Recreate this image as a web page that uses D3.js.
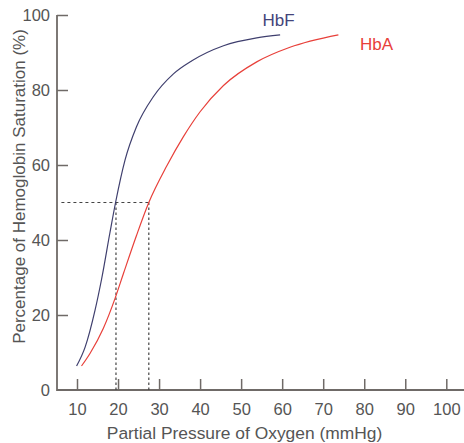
<!DOCTYPE html>
<html>
<head>
<meta charset="utf-8">
<script src="https://cdn.jsdelivr.net/npm/d3@7"></script>
<style>
  html, body { margin: 0; padding: 0; background: #fff; }
  svg { display: block; font-family: "Liberation Sans", Arial, sans-serif; }
</style>
</head>
<body>
<svg id="chart" width="464" height="443"></svg>
<script>
// Oxygen dissociation curves: fetal (HbF) vs adult (HbA) hemoglobin
const hbfPO2 = [9.9, 12, 14.4, 16, 18, 19.4, 21.7, 24.5, 28.6, 33.5, 38, 45.7, 53.8, 59.5];
const hbfSat = [6.4, 11.5, 21.3, 29.6, 41.8, 50, 61.3, 70.2, 78.2, 84.3, 87.8, 91.8, 93.9, 94.7];

const hbaPO2 = [11.1, 13.2, 16.4, 19.3, 21.3, 24.5, 27.5, 31.9, 35.9, 40, 45.7, 53.8, 61.9, 73.7];
const hbaSat = [6.4, 9.8, 16.4, 24.5, 31, 41.2, 50, 59.8, 67.5, 74.2, 81.2, 87.5, 91.4, 94.7];

// P50 values (partial pressure at 50% saturation)
const p50Values = [19.5, 27.5];
const halfSat = 50;

const xTicks = [10, 20, 30, 40, 50, 60, 70, 80, 90, 100];
const yTicks = [0, 20, 40, 60, 80, 100];

const svg = d3.select("#chart");
const W = 464;

const x = d3.scaleLinear().domain([10, 100]).range([77, 446.3]);
const y = d3.scaleLinear().domain([0, 100]).range([390, 15]);

const axisColor = "#6f6a67";
const textColor = "#555";

// x axis
const axisX0 = 57;
svg.append("line")
  .attr("x1", axisX0).attr("x2", W)
  .attr("y1", y(0)).attr("y2", y(0))
  .attr("stroke", axisColor).attr("stroke-width", 1.8);

const gx = svg.append("g")
  .attr("transform", `translate(0,${y(0)})`)
  .call(d3.axisBottom(x).tickValues(xTicks).tickSize(-11).tickPadding(13.5).tickFormat(d3.format("d")));
gx.select(".domain").remove();
gx.selectAll(".tick line").attr("stroke", axisColor).attr("stroke-width", 1.5);
gx.selectAll(".tick text")
  .attr("fill", textColor).attr("font-size", 16.5)
  .attr("font-family", "Liberation Sans, Arial, sans-serif");

// y axis
svg.append("line")
  .attr("x1", axisX0).attr("x2", axisX0)
  .attr("y1", y(100)).attr("y2", y(0) + 0.9)
  .attr("stroke", axisColor).attr("stroke-width", 1.8);

const gy = svg.append("g")
  .attr("transform", `translate(${axisX0},0)`)
  .call(d3.axisLeft(y).tickValues(yTicks).tickSize(-11).tickPadding(7).tickFormat(d3.format("d")));
gy.select(".domain").remove();
gy.selectAll(".tick line").attr("stroke", axisColor).attr("stroke-width", 1.5);
gy.selectAll(".tick").filter(d => d === 0).select("line").remove();
gy.selectAll(".tick text")
  .attr("fill", textColor).attr("font-size", 16.5)
  .attr("font-family", "Liberation Sans, Arial, sans-serif");

// axis titles
svg.append("text")
  .attr("x", 244.5).attr("y", 439)
  .attr("text-anchor", "middle")
  .attr("fill", textColor).attr("font-size", 17.4)
  .text("Partial Pressure of Oxygen (mmHg)");

svg.append("text")
  .attr("transform", "translate(25,186.5) rotate(-90)")
  .attr("text-anchor", "middle")
  .attr("fill", textColor).attr("font-size", 17)
  .text("Percentage of Hemoglobin Saturation (%)");

// P50 guide lines
const dashColor = "#444";
svg.append("line")
  .attr("x1", x(6.2)).attr("x2", x(p50Values[1]))
  .attr("y1", y(halfSat)).attr("y2", y(halfSat))
  .attr("stroke", dashColor).attr("stroke-width", 1.2)
  .attr("stroke-dasharray", "3,3");

svg.selectAll("line.p50")
  .data(p50Values)
  .join("line")
  .attr("class", "p50")
  .attr("x1", d => x(d)).attr("x2", d => x(d))
  .attr("y1", y(halfSat)).attr("y2", y(0))
  .attr("stroke", dashColor).attr("stroke-width", 1.2)
  .attr("stroke-dasharray", "2.5,2.5");

// curves
const line = d3.line()
  .x(d => x(d[0]))
  .y(d => y(d[1]))
  .curve(d3.curveMonotoneX);

const hbf = hbfPO2.map((p, i) => [p, hbfSat[i]]);
const hba = hbaPO2.map((p, i) => [p, hbaSat[i]]);

svg.append("path").datum(hbf)
  .attr("d", line).attr("fill", "none")
  .attr("stroke", "#3f3f6e").attr("stroke-width", 1.2);

svg.append("path").datum(hba)
  .attr("d", line).attr("fill", "none")
  .attr("stroke", "#e8403a").attr("stroke-width", 1.2);

// series labels
svg.append("text")
  .attr("x", 262.5).attr("y", 26)
  .attr("fill", "#44447a").attr("font-size", 17)
  .text("HbF");

svg.append("text")
  .attr("x", 360).attr("y", 50)
  .attr("fill", "#e8403a").attr("font-size", 17)
  .text("HbA");
</script>
</body>
</html>
